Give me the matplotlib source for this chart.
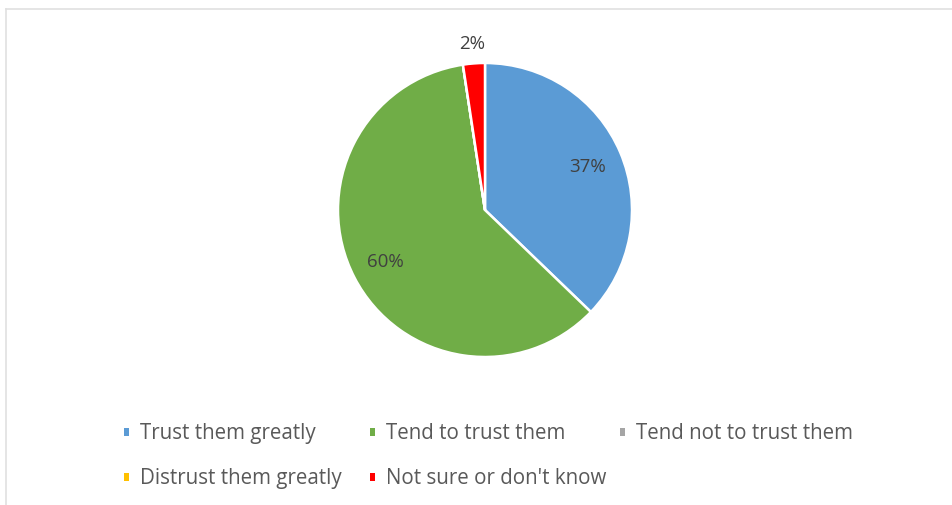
import matplotlib.pyplot as plt
import numpy as np
from matplotlib.patches import Rectangle

plt.rcParams['font.family'] = ['Open Sans', 'DejaVu Sans']

# Survey answers
categories = ['Trust them greatly', 'Tend to trust them', 'Tend not to trust them',
              'Distrust them greatly', "Not sure or don't know"]
shares = [37.2, 60.4, 0.0, 0.0, 2.4]
colors = ['#5B9BD5', '#70AD47', '#A5A5A5', '#FFC000', '#FF0000']

W, H = 952, 506
fig = plt.figure(figsize=(W / 100, H / 100), dpi=100)

# pie centre and radius in pixels
cx, cy, r = 485, 211, 147
ax = fig.add_axes([(cx - r) / W, (H - cy - r) / H, 2 * r / W, 2 * r / H])


def pct_label(p):
    return f'{p:.0f}%' if p > 0.5 else ''


wedges, texts, autotexts = ax.pie(
    shares, colors=colors, startangle=90, counterclock=False,
    autopct=pct_label, pctdistance=0.76,
    wedgeprops=dict(edgecolor='white', linewidth=1.8),
    textprops=dict(color='#404040', fontsize=13.5))
ax.set_xlim(-1, 1)
ax.set_ylim(-1, 1)

# small slice label goes outside the pie
w = wedges[-1]
mid = np.deg2rad((w.theta1 + w.theta2) / 2)
autotexts[-1].set_position((1.14 * np.cos(mid), 1.14 * np.sin(mid)))

# chart frame (top and left edges)
fig.add_artist(plt.Line2D([6 / W, 1], [1 - 9.5 / H] * 2, transform=fig.transFigure,
                          color='#e0e0e0', lw=1.2))
fig.add_artist(plt.Line2D([6 / W] * 2, [0, 1 - 9.5 / H], transform=fig.transFigure,
                          color='#e0e0e0', lw=1.2))

# legend entries laid out in two rows
legend_pos = [(128, 434), (374, 434), (624, 434), (128, 479), (374, 479)]
for (lx, ly), label, c in zip(legend_pos, categories, colors):
    fig.add_artist(Rectangle(((lx - 4) / W, (H - ly - 3) / H), 5 / W, 8 / H,
                             transform=fig.transFigure, color=c, lw=0))
    fig.text((lx + 12) / W, (H - ly) / H, label, fontsize=14.8, color='#595959',
             va='center', ha='left')

fig.savefig('out.png', dpi=100, facecolor='white')
